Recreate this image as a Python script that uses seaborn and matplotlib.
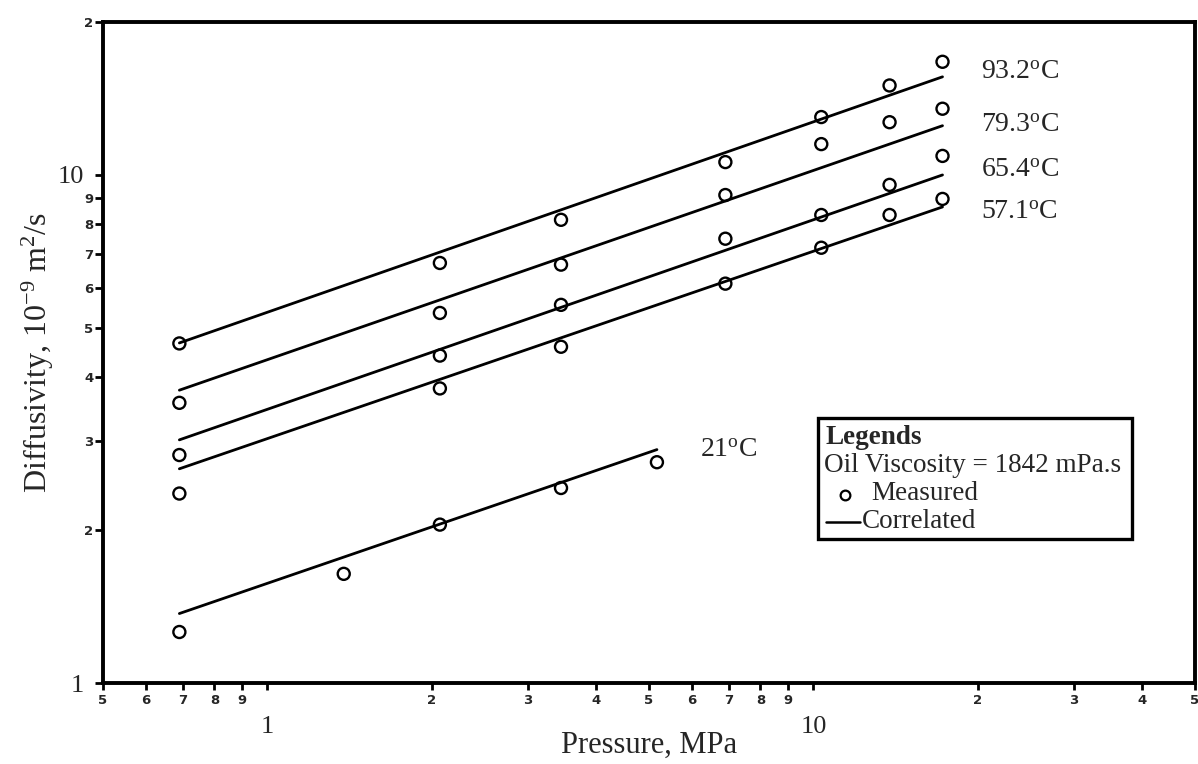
import numpy as np
import pandas as pd
import matplotlib
matplotlib.use("Agg")
import matplotlib.pyplot as plt
import seaborn as sns
from matplotlib.ticker import FixedLocator, FixedFormatter
from matplotlib.patches import Rectangle
from matplotlib.lines import Line2D

# ---------------- data ----------------
temps = ["93.2", "79.3", "65.4", "57.1"]
pressure = [0.69, 2.07, 3.45, 6.9, 10.34, 13.79, 17.24]
d_932 = [4.66, 6.71, 8.16, 10.6, 13.0, 15.0, 16.7]
d_793 = [3.56, 5.35, 6.66, 9.13, 11.5, 12.7, 13.5]
d_654 = [2.81, 4.41, 5.55, 7.49, 8.34, 9.56, 10.9]
d_571 = [2.36, 3.80, 4.59, 6.11, 7.19, 8.34, 8.97]

pressure_21 = [0.69, 1.38, 2.07, 3.45, 5.17]
d_21 = [1.26, 1.64, 2.05, 2.42, 2.72]

# correlated lines (end points, straight on log-log)
corr_p = [0.69, 17.24]
corr_932 = [4.67, 15.6]
corr_793 = [3.77, 12.5]
corr_654 = [3.01, 10.0]
corr_571 = [2.64, 8.65]
corr_p_21 = [0.69, 5.17]
corr_21 = [1.37, 2.88]

label_pos = {"93.2": 15.9, "79.3": 12.5, "65.4": 10.2, "57.1": 8.42}

x_major = [1, 10]
x_major_labels = ["1", "10"]
x_minor = [0.5, 0.6, 0.7, 0.8, 0.9, 2, 3, 4, 5, 6, 7, 8, 9, 20, 30, 40, 50]
x_minor_labels = ["5", "6", "7", "8", "9", "2", "3", "4", "5", "6", "7", "8", "9", "2", "3", "4", "5"]
y_major = [1, 10]
y_major_labels = ["1", "10"]
y_minor = [2, 3, 4, 5, 6, 7, 8, 9, 20]
y_minor_labels = ["2", "3", "4", "5", "6", "7", "8", "9", "2"]

# ---------------- frames ----------------
meas = pd.concat([
    pd.DataFrame({"P": pressure, "D": d, "T": t})
    for t, d in zip(temps, [d_932, d_793, d_654, d_571])
] + [pd.DataFrame({"P": pressure_21, "D": d_21, "T": "21"})], ignore_index=True)

corr = pd.concat([
    pd.DataFrame({"P": corr_p, "D": d, "T": t})
    for t, d in zip(temps, [corr_932, corr_793, corr_654, corr_571])
] + [pd.DataFrame({"P": corr_p_21, "D": corr_21, "T": "21"})], ignore_index=True)

# ---------------- style ----------------
sns.set_theme(style="ticks")
plt.rcParams["font.family"] = ["Liberation Serif", "DejaVu Serif"]
plt.rcParams["mathtext.fontset"] = "custom"
plt.rcParams["mathtext.rm"] = "Liberation Serif"
plt.rcParams["mathtext.it"] = "Liberation Serif"

W, H = 1198, 764
fig = plt.figure(figsize=(W / 100, H / 100), dpi=100)
L, R, T, B = 103, 1195, 22, 683
ax = fig.add_axes([L / W, 1 - B / H, (R - L) / W, (B - T) / H])

sns.lineplot(data=corr, x="P", y="D", units="T", estimator=None,
             color="black", linewidth=2.0, ax=ax, legend=False)
sns.scatterplot(data=meas, x="P", y="D", marker="o", s=75,
                facecolors="none", edgecolor="black", linewidth=1.7,
                ax=ax, legend=False, zorder=3)
for c in ax.collections:
    c.set_facecolor("none")
    c.set_edgecolor("black")

ax.set_xscale("log")
ax.set_yscale("log")
ax.set_xlim(0.5, 50)
ax.set_ylim(1, 20)

for s in ax.spines.values():
    s.set_linewidth(2.8)
    s.set_color("black")

ax.xaxis.set_major_locator(FixedLocator(x_major))
ax.xaxis.set_major_formatter(FixedFormatter(x_major_labels))
ax.xaxis.set_minor_locator(FixedLocator(x_minor))
ax.xaxis.set_minor_formatter(FixedFormatter(x_minor_labels))
ax.yaxis.set_major_locator(FixedLocator(y_major))
ax.yaxis.set_major_formatter(FixedFormatter(y_major_labels))
ax.yaxis.set_minor_locator(FixedLocator(y_minor))
ax.yaxis.set_minor_formatter(FixedFormatter(y_minor_labels))

ax.tick_params(axis="x", which="both", direction="out", length=5, width=2, color="black")
ax.tick_params(axis="y", which="both", direction="out", length=6, width=2, color="black")
ax.tick_params(axis="x", which="minor", pad=3)
ax.tick_params(axis="x", which="major", pad=19)
ax.tick_params(axis="y", which="minor", pad=1)
ax.tick_params(axis="y", which="major", pad=8)

for lab in ax.xaxis.get_minorticklabels() + ax.yaxis.get_minorticklabels():
    lab.set_fontfamily("DejaVu Sans")
    lab.set_fontweight("bold")
    lab.set_fontsize(9.5)
for lab in ax.xaxis.get_majorticklabels() + ax.yaxis.get_majorticklabels():
    lab.set_fontfamily("Liberation Serif")
    lab.set_fontsize(19)

ax.set_xlabel("Pressure, MPa", fontsize=22, va="top")
ax.xaxis.set_label_coords(0.5, (B - 731) / (B - T))
ax.set_ylabel("Diffusivity, 10$^{\\mathregular{-9}}$ m$^{\\mathregular{2}}$/s", fontsize=23)
ax.yaxis.set_label_coords((38 - L) / (R - L), 0.5)
ax.yaxis.label.set_va("center")

for t in temps:
    ax.text(20.3, label_pos[t], t + "$^{\\mathregular{o}}$C", fontsize=20,
            ha="left", va="center")
ax.text(6.2, 2.87, "21$^{\\mathregular{o}}$C", fontsize=20, ha="left", va="center")

# ---------------- legend box ----------------
def fx(px):
    return (px - L) / (R - L)

def fy(py):
    return (B - py) / (B - T)

ax.add_patch(Rectangle((fx(818), fy(539)), fx(1132) - fx(818), fy(418) - fy(539),
                       transform=ax.transAxes, fill=False, lw=2.4, ec="black", zorder=5))
ax.text(fx(825), fy(437), "Legends", transform=ax.transAxes, fontsize=19.5,
        fontweight="bold", ha="left", va="center")
ax.text(fx(824), fy(465), "Oil Viscosity = 1842 mPa.s", transform=ax.transAxes,
        fontsize=19.5, ha="left", va="center")
ax.add_line(Line2D([fx(845)], [fy(495)], transform=ax.transAxes, marker="o",
                   ms=7, mfc="none", mec="black", mew=1.6, ls="none"))
ax.text(fx(871), fy(494), "Measured", transform=ax.transAxes, fontsize=19.5,
        ha="left", va="center")
ax.add_line(Line2D([fx(826), fx(860)], [fy(522), fy(522)], transform=ax.transAxes,
                   color="black", lw=1.8))
ax.text(fx(862), fy(522), "Correlated", transform=ax.transAxes, fontsize=19.5,
        ha="left", va="center")

fig.savefig("out.png", dpi=100, facecolor="white")
